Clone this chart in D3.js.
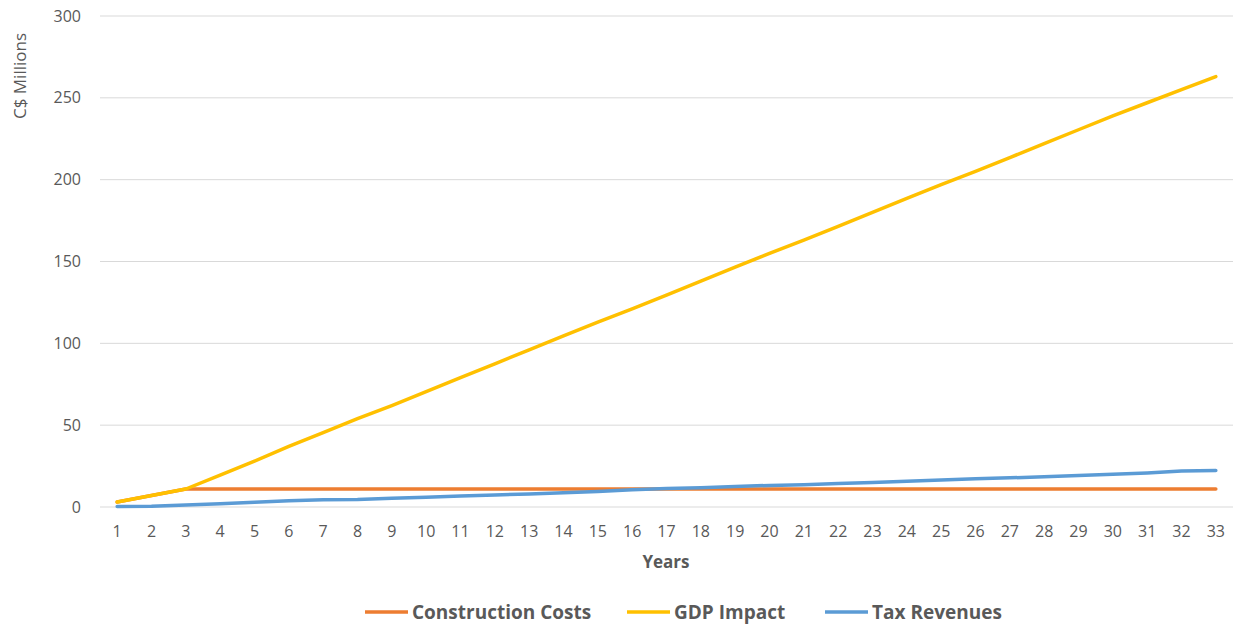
<html>
<head>
<script src="https://cdn.jsdelivr.net/npm/d3@7"></script>
<style>
  body { margin: 0; background: white; }
  text { font-family: "Open Sans", "Liberation Sans", sans-serif; fill: #595959; }
</style>
</head>
<body>
<svg width="1238" height="625"></svg>
<script>
  var years = d3.range(1, 34).map(String);
  var construction = [3, 7, 11, 11, 11, 11, 11, 11, 11, 11, 11, 11, 11, 11, 11, 11, 11, 11, 11, 11, 11, 11, 11, 11, 11, 11, 11, 11, 11, 11, 11, 11, 11];
  var gdp = [3, 7, 11, 19.5, 28, 37, 45.5, 54, 62, 70.5, 79, 87.5, 96, 104.5, 113, 121, 129.5, 138, 146.5, 155, 163, 171.5, 180, 188.5, 197, 205, 213.5, 222, 230.5, 239, 247, 255, 263];
  var tax = [0.3, 0.4, 1.2, 2, 2.9, 3.8, 4.5, 4.6, 5.3, 6, 6.7, 7.4, 8, 8.7, 9.4, 10.5, 11.3, 11.8, 12.5, 13.2, 13.6, 14.3, 15, 15.8, 16.5, 17.2, 17.8, 18.5, 19.2, 20, 20.8, 22, 22.3];
  var yTicks = [0, 50, 100, 150, 200, 250, 300];

  var series = [
    {name: "Construction Costs", values: construction, color: "#ED7D31"},
    {name: "GDP Impact", values: gdp, color: "#FFC000"},
    {name: "Tax Revenues", values: tax, color: "#5B9BD5"}
  ];

  var plotLeft = 100, plotRight = 1233, plotTop = 16, plotBottom = 507;
  var svg = d3.select("svg");

  var xs = d3.scaleBand().domain(years).range([plotLeft, plotRight]);
  var ys = d3.scaleLinear().domain([0, 300]).range([plotBottom, plotTop]);

  // gridlines
  svg.append("g").selectAll("line").data(yTicks).enter()
    .append("line")
    .attr("x1", plotLeft).attr("x2", plotRight)
    .attr("y1", d => ys(d)).attr("y2", d => ys(d))
    .attr("stroke", "#d9d9d9").attr("stroke-width", 1);

  // y labels
  svg.append("g").selectAll("text").data(yTicks).enter()
    .append("text")
    .attr("x", 81).attr("y", d => ys(d))
    .attr("dy", "0.35em")
    .attr("text-anchor", "end")
    .style("font-size", "16px")
    .text(d => d);

  // x labels
  svg.append("g").selectAll("text").data(years).enter()
    .append("text")
    .attr("x", d => xs(d) + xs.bandwidth() / 2)
    .attr("y", 531)
    .attr("dy", "0.35em")
    .attr("text-anchor", "middle")
    .style("font-size", "16px")
    .text(d => d);

  var line = d3.line()
    .x((d, i) => xs(years[i]) + xs.bandwidth() / 2)
    .y(d => ys(d));

  svg.append("g").selectAll("path").data(series).enter()
    .append("path")
    .attr("d", d => line(d.values))
    .attr("fill", "none")
    .attr("stroke", d => d.color)
    .attr("stroke-width", 3.5)
    .attr("stroke-linecap", "round")
    .attr("stroke-linejoin", "round");

  // axis titles
  svg.append("text")
    .attr("transform", "translate(20,76) rotate(-90)")
    .attr("text-anchor", "middle")
    .attr("dy", "0.35em")
    .style("font-size", "17px")
    .text("C$ Millions");

  svg.append("text")
    .attr("x", 666).attr("y", 562)
    .attr("dy", "0.35em")
    .attr("text-anchor", "middle")
    .style("font-size", "17px").style("font-weight", "bold")
    .text("Years");

  // legend
  var legendX = [365, 627, 825];
  var lg = svg.append("g").selectAll("g").data(series).enter()
    .append("g")
    .attr("transform", (d, i) => "translate(" + legendX[i] + ",612)");
  lg.append("line")
    .attr("x1", 0).attr("x2", 43)
    .attr("stroke", d => d.color).attr("stroke-width", 3.5);
  lg.append("text")
    .attr("x", 47).attr("dy", "0.35em")
    .style("font-size", "19px").style("font-weight", "bold")
    .text(d => d.name);
</script>
</body>
</html>
